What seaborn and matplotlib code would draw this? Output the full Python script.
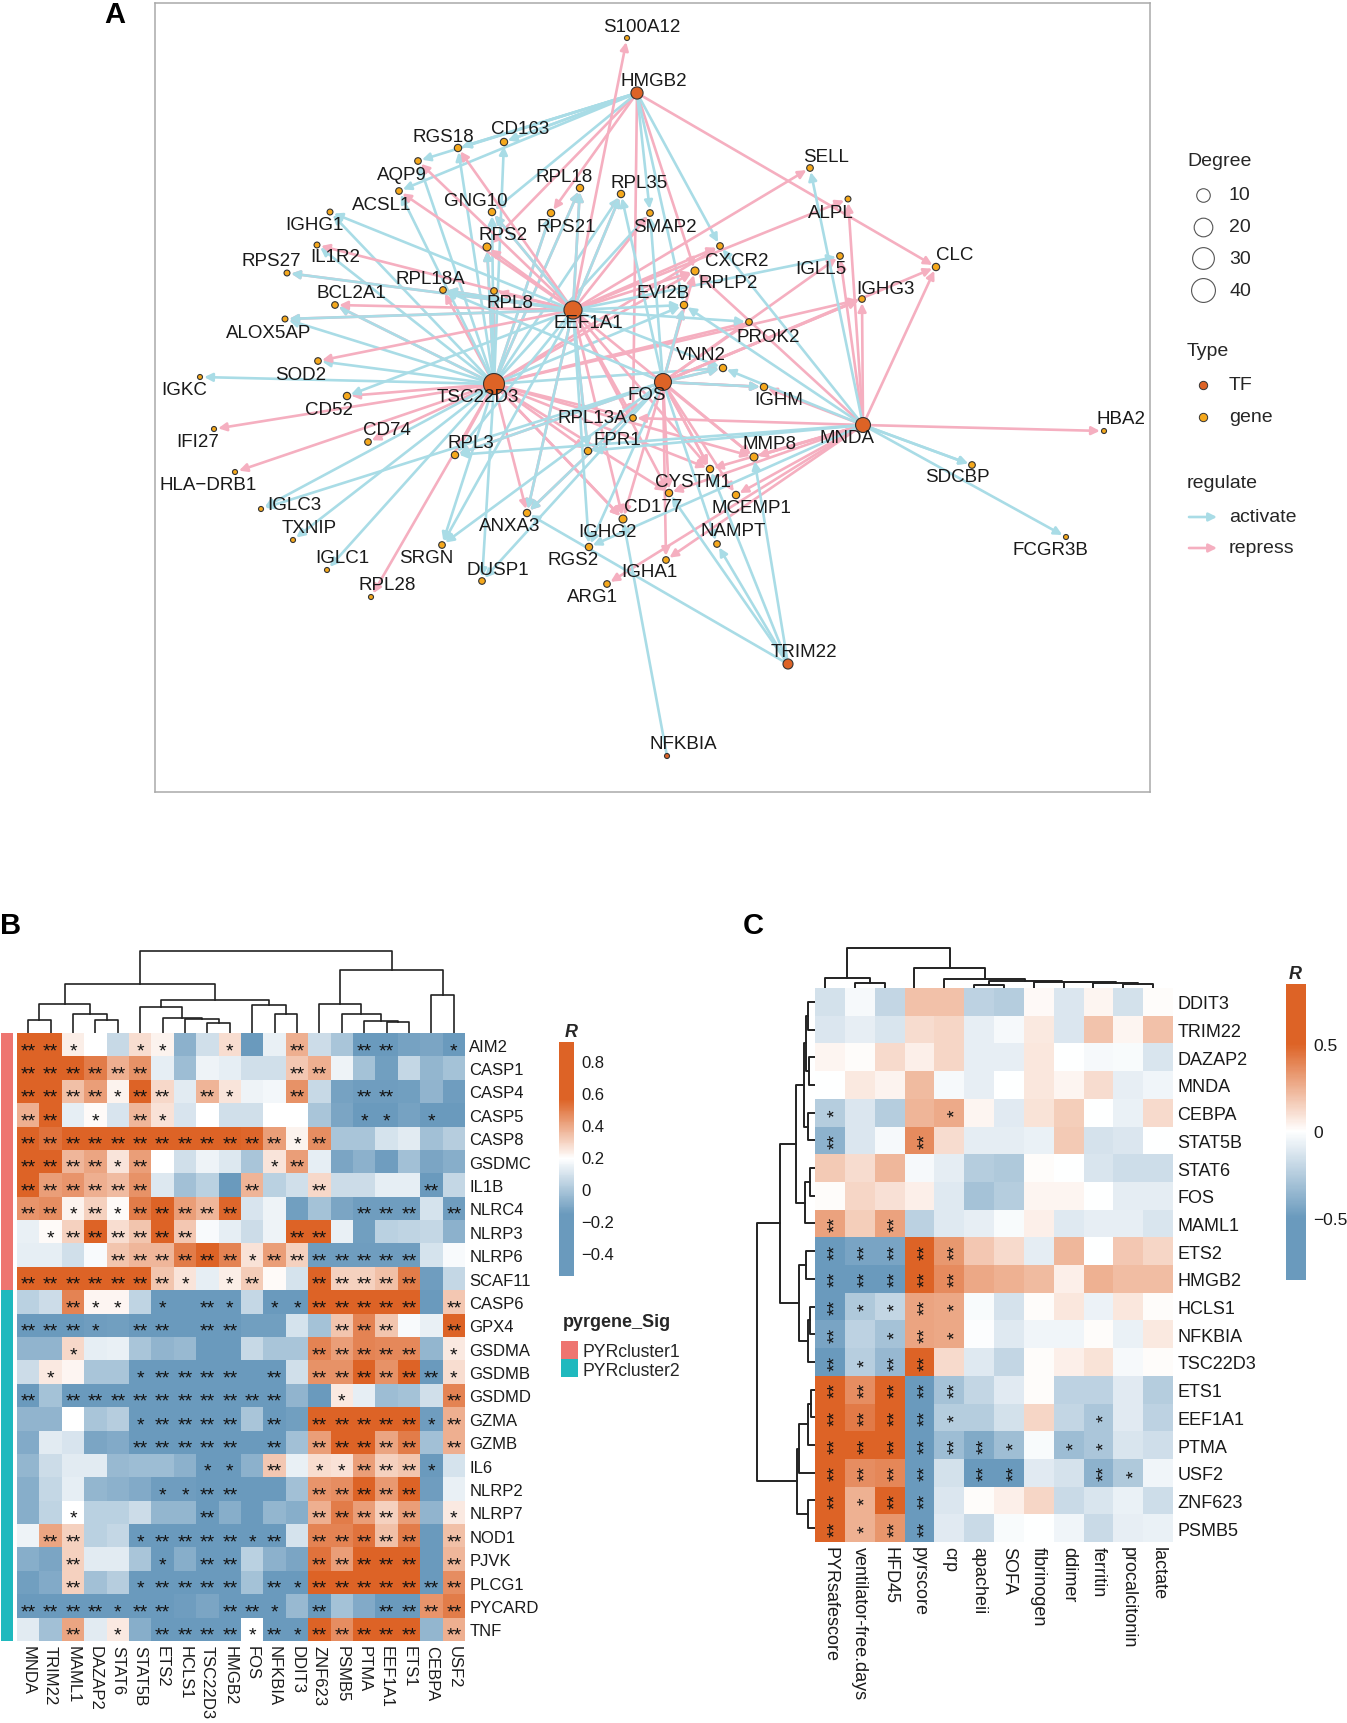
import numpy as np
import pandas as pd
import seaborn as sns
import matplotlib.pyplot as plt
from matplotlib.colors import LinearSegmentedColormap, ListedColormap

# Panel A: regulatory network, layout positions
node_names = ['S100A12', 'HMGB2', 'CD163', 'RGS18', 'AQP9', 'ACSL1', 'RPL18', 'RPL35', 'RPS21', 'GNG10',
              'IGHG1', 'RPS2', 'IL1R2', 'RPL18A', 'RPL8', 'RPS27', 'BCL2A1', 'ALOX5AP', 'EEF1A1', 'SOD2',
              'IGKC', 'TSC22D3', 'CD52', 'IFI27', 'CD74', 'HLA−DRB1', 'RPL3', 'IGLC3', 'TXNIP', 'IGLC1',
              'RPL28', 'SRGN', 'DUSP1', 'ANXA3', 'FPR1', 'RPL13A', 'IGHG2', 'RGS2', 'ARG1', 'FOS',
              'VNN2', 'IGHM', 'MNDA', 'MMP8', 'CYSTM1', 'CD177', 'MCEMP1', 'NAMPT', 'IGHA1', 'TRIM22',
              'NFKBIA', 'SELL', 'ALPL', 'CXCR2', 'RPLP2', 'IGLL5', 'EVI2B', 'IGHG3', 'PROK2', 'CLC',
              'HBA2', 'SDCBP', 'FCGR3B', 'SMAP2']
node_x = [627, 637, 504, 458, 418, 399, 580, 621, 551, 492,
          330, 487, 317, 443, 494, 287, 335, 285, 573, 318,
          200, 494, 347, 214, 368, 235, 455, 261, 293, 327,
          371, 442, 482, 527, 588, 633, 623, 589, 607, 663,
          723, 764, 863, 754, 710, 669, 736, 717, 666, 788,
          667, 810, 848, 720, 695, 840, 684, 862, 749, 936,
          1104, 972, 1066, 650]
node_y = [39, 94, 143, 149, 162, 192, 189, 195, 214, 213,
          213, 248, 246, 291, 292, 274, 306, 320, 311, 362,
          378, 385, 397, 430, 443, 473, 456, 510, 541, 571,
          598, 546, 582, 514, 452, 419, 520, 548, 585, 383,
          369, 388, 426, 458, 470, 494, 496, 545, 561, 665,
          757, 169, 200, 247, 272, 257, 306, 300, 323, 268,
          432, 466, 538, 214]
node_degree = [1, 14, 4, 4, 3, 3, 4, 4, 4, 4,
               2, 5, 2, 3, 3, 2, 3, 2, 33, 3,
               1, 45, 4, 1, 3, 1, 4, 1, 1, 1,
               1, 3, 3, 4, 4, 3, 5, 4, 3, 29,
               4, 4, 22, 5, 4, 4, 4, 3, 3, 9,
               1, 3, 2, 3, 5, 3, 4, 3, 3, 4,
               1, 3, 1, 3]
tf_names = ['HMGB2', 'EEF1A1', 'TSC22D3', 'FOS', 'MNDA', 'TRIM22', 'NFKBIA']
label_x = [642, 654, 520, 443, 402, 382, 564, 639, 566, 476,
           314, 503, 335, 430, 510, 271, 351, 269, 588, 301,
           184, 478, 329, 198, 387, 208, 471, 294, 309, 342,
           387, 426, 498, 510, 617, 592, 607, 573, 592, 647,
           701, 779, 847, 769, 693, 653, 751, 733, 649, 804,
           683, 826, 831, 737, 728, 821, 663, 885, 768, 955,
           1121, 957, 1050, 665]
label_y = [28, 81, 130, 137, 175, 205, 177, 183, 227, 201,
           226, 236, 258, 279, 304, 261, 294, 333, 323, 375,
           391, 398, 411, 443, 431, 486, 444, 506, 529, 559,
           586, 559, 571, 527, 441, 419, 533, 561, 598, 396,
           355, 401, 439, 445, 483, 508, 509, 532, 573, 653,
           745, 157, 213, 261, 283, 270, 293, 290, 337, 255,
           420, 478, 551, 228]

activate_targets = {
    'HMGB2': ['CD163', 'RGS18', 'AQP9', 'ACSL1', 'GNG10', 'SMAP2', 'CXCR2', 'EVI2B', 'CD163', 'RGS18'],
    'TSC22D3': ['IGKC', 'SOD2', 'ALOX5AP', 'BCL2A1', 'IGHG1', 'IL1R2', 'AQP9', 'ACSL1', 'RGS18', 'CD163',
                'GNG10', 'RPS2', 'IGLC3', 'TXNIP', 'IGLC1', 'SRGN', 'DUSP1', 'RPL18', 'RPL35', 'SMAP2',
                'EVI2B', 'VNN2', 'RPS21'],
    'EEF1A1': ['RPS27', 'IGHG1', 'CD52', 'RPL18A', 'RPL35', 'RPL3', 'FPR1', 'ANXA3', 'EVI2B', 'VNN2',
               'PROK2', 'RGS2', 'IGLL5', 'SRGN', 'RPL18', 'GNG10', 'ALOX5AP'],
    'FOS': ['SMAP2', 'RPL35', 'SRGN', 'DUSP1', 'VNN2', 'IGHM', 'NAMPT', 'RGS2', 'EVI2B', 'RPL18A',
            'RPL3', 'ANXA3', 'IGLC3'],
    'MNDA': ['SELL', 'EVI2B', 'SDCBP', 'SDCBP', 'FCGR3B', 'FPR1', 'RGS2', 'CXCR2', 'RPL3', 'VNN2'],
    'TRIM22': ['ANXA3', 'NAMPT', 'CYSTM1', 'MMP8', 'CD177'],
    'NFKBIA': ['IGHG2'],
}
repress_targets = {
    'HMGB2': ['RPS21', 'RPS2', 'RPLP2', 'CLC', 'RPL13A'],
    'TSC22D3': ['RPS2', 'RPL18A', 'RPL8', 'RPL18', 'RPS21', 'CD52', 'IFI27', 'HLA−DRB1', 'CD74', 'RPL3',
                'ANXA3', 'IGHG2', 'IGHG2', 'CYSTM1', 'MMP8', 'RPL13A', 'FPR1', 'BCL2A1', 'RPLP2', 'PROK2', 'IGHG3',
                'CXCR2', 'CD177', 'RPL28'],
    'EEF1A1': ['S100A12', 'ALOX5AP', 'BCL2A1', 'SOD2', 'RPL18', 'RPL8', 'IL1R2', 'RPS27', 'AQP9', 'RGS18',
               'ACSL1', 'RPL18A', 'RPS2', 'GNG10', 'RPLP2', 'ALPL', 'CXCR2', 'SELL', 'RPL13A', 'CYSTM1',
               'MMP8', 'CD177', 'IGHG2', 'FPR1', 'RPL35', 'ANXA3', 'SMAP2'],
    'FOS': ['EVI2B', 'RPLP2', 'IGHG3', 'IGHG3', 'CLC', 'PROK2', 'VNN2', 'IGHM', 'IGHM', 'CYSTM1', 'CYSTM1', 'MCEMP1',
            'MMP8', 'IGHA1', 'CD177', 'IGHG2', 'IGLL5', 'ANXA3', 'RPL3'],
    'MNDA': ['ALPL', 'IGLL5', 'IGHG3', 'CLC', 'HBA2', 'IGHM', 'RPLP2', 'RPL13A', 'MMP8', 'CYSTM1',
             'CD177', 'MCEMP1', 'IGHA1', 'ARG1', 'MMP8'],
}

# Panel B: pyroptosis genes against regulators
b_rows = ['AIM2', 'CASP1', 'CASP4', 'CASP5', 'CASP8', 'GSDMC', 'IL1B', 'NLRC4', 'NLRP3', 'NLRP6', 'SCAF11',
          'CASP6', 'GPX4', 'GSDMA', 'GSDMB', 'GSDMD', 'GZMA', 'GZMB', 'IL6', 'NLRP2', 'NLRP7', 'NOD1', 'PJVK',
          'PLCG1', 'PYCARD', 'TNF']
b_cols = ['MNDA', 'TRIM22', 'MAML1', 'DAZAP2', 'STAT6', 'STAT5B', 'ETS2', 'HCLS1', 'TSC22D3', 'HMGB2', 'FOS',
          'NFKBIA', 'DDIT3', 'ZNF623', 'PSMB5', 'PTMA', 'EEF1A1', 'ETS1', 'CEBPA', 'USF2']
b_values = [
    [.62, .65, .23, .19, .06, .27, .22, -.08, .08, .27, -.16, .14, .38, .07, -.01, -.17, -.17, -.13, -.12, -.16],
    [.65, .65, .60, .50, .38, .45, .13, -.04, .15, .13, .08, .08, .32, .38, .15, -.02, -.14, .05, -.06, -.02],
    [.65, .65, .34, .42, .22, .60, .28, .12, .37, .25, .15, .16, .45, .06, -.13, -.15, -.15, -.14, -.07, -.15],
    [.38, .58, .13, .20, .10, .36, .26, .10, .19, .08, .08, .19, .19, -.01, -.12, -.17, -.17, -.13, -.16, -.16],
    [.60, .52, .60, .60, .60, .60, .60, .60, .60, .60, .55, .42, .22, .46, -.01, -.01, .09, .12, -.03, .02],
    [.62, .56, .36, .40, .25, .42, .19, .08, .15, .11, -.01, .25, .42, .13, -.12, -.08, -.15, -.03, -.12, -.09],
    [.62, .42, .44, .38, .35, .45, .11, -.03, .03, -.16, .37, .03, .08, .28, .07, .07, .13, .13, -.16, .05],
    [.44, .46, .22, .30, .20, .50, .58, .42, .36, .55, .10, .15, -.14, -.02, -.12, -.15, -.15, -.15, .09, -.15],
    [.14, .20, .30, .60, .27, .33, .60, .32, .17, .13, .07, .15, .60, .60, .14, -.14, .03, .04, .05, -.08],
    [.13, .13, .08, .17, .33, .36, .36, .50, .58, .48, .26, .42, .30, -.15, -.15, -.15, -.15, -.15, .09, .17],
    [.60, .60, .60, .60, .60, .60, .33, .25, .13, .23, .31, .20, .09, .60, .30, .30, .34, .50, -.15, .05],
    [.03, .07, .48, .21, .21, .04, -.17, -.17, -.17, -.17, .05, -.16, -.16, .60, .60, .60, .60, .58, -.16, .32],
    [-.16, -.16, -.16, -.15, -.14, -.16, -.16, -.16, -.16, -.16, -.14, -.14, .09, -.02, .33, .48, .33, .17, .14, .60],
    [-.07, -.07, .28, .13, .14, -.01, -.07, -.05, -.16, -.16, .06, -.01, -.01, .48, .42, .48, .47, .47, -.06, .24],
    [.07, .24, .21, -.01, -.01, -.16, -.16, -.16, -.16, -.16, -.16, -.16, .08, .45, .45, .58, .45, .58, -.16, .27],
    [-.16, -.02, -.16, -.16, -.16, -.16, -.16, -.16, -.16, -.16, -.16, -.16, -.07, -.16, .24, .13, -.04, -.02, .08, .48],
    [-.07, -.07, .19, -.01, .02, -.16, -.16, -.16, -.16, -.16, -.01, -.16, -.14, .60, .60, .60, .60, .60, -.15, .38],
    [-.10, .12, .10, -.12, -.10, -.16, -.16, -.16, -.16, -.16, -.16, -.16, -.03, .42, .60, .60, .40, .50, -.03, .38],
    [-.06, .07, .12, .12, -.05, -.04, -.04, -.08, -.16, -.16, -.08, .32, .14, .27, .26, .42, .30, .33, -.16, .09],
    [-.09, .05, .13, -.06, -.08, -.10, -.15, -.15, -.16, -.16, -.16, -.16, -.03, .44, .46, .58, .43, .58, -.15, .14],
    [-.09, .04, .19, .03, .03, .07, -.06, -.06, -.16, -.09, -.16, -.06, -.09, .38, .50, .42, .30, .42, -.07, .24],
    [.15, .40, .30, .03, .05, -.16, -.16, -.16, -.16, -.16, -.16, -.16, .09, .48, .48, .52, .34, .50, -.16, .34],
    [-.09, -.12, .30, .12, .12, -.01, -.16, -.09, -.16, -.16, .03, -.08, -.12, .52, .42, .60, .60, .60, -.16, .36],
    [-.14, -.10, .30, -.03, .02, -.16, -.16, -.16, -.16, -.16, -.02, -.16, -.16, .60, .60, .60, .60, .60, -.16, .46],
    [-.16, -.16, -.16, -.16, -.16, -.16, -.16, -.15, -.12, -.16, -.16, -.16, -.05, -.16, -.02, -.10, -.16, -.16, .44, .50],
    [.12, -.03, .40, .12, .24, -.09, -.16, -.16, -.16, -.16, .19, -.16, -.16, .60, .46, .60, .60, .60, -.06, .38],
]
# 0 none, 1 one star, 2 two stars
b_stars = ['22100110010020022001', '22222200000022000000', '22221220210020022000', '22010210000000011010',
           '22222222222212000000', '22221200000120000000', '22222200002002000020', '22121222220000022202',
           '01222222000022000000', '00002222221222222200', '22222221012002222200', '00211010210112222202',
           '22210220220000222002', '00100000000002222201', '01000122220202222221', '20222222222200100002',
           '00000122220202222212', '00000222220202222202', '00000000110201122210', '00000011220002222200',
           '00100000200002222201', '02200122221202222202', '00200010220002222202', '00200122220212222222',
           '22221220022102002222', '00201022221212222202']
b_clusters = [0] * 11 + [1] * 15
cluster_names = ['PYRcluster1', 'PYRcluster2']
b_col_tree = (82, (49, (29, (13, 0, 1), (19, 2, (13, 3, 4))),
                   (33, (26, 5, (15, 6, (14, 7, (10, 8, 9)))), (28, 10, (19, 11, 12)))),
              (63, (29, 13, (19, 14, (12, 15, (11, 16, 17)))), (38, 18, 19)))

# Panel C: regulators against clinical variables
c_rows = ['DDIT3', 'TRIM22', 'DAZAP2', 'MNDA', 'CEBPA', 'STAT5B', 'STAT6', 'FOS', 'MAML1', 'ETS2', 'HMGB2',
          'HCLS1', 'NFKBIA', 'TSC22D3', 'ETS1', 'EEF1A1', 'PTMA', 'USF2', 'ZNF623', 'PSMB5']
c_cols = ['PYRsafescore', 'ventilator-free.days', 'HFD45', 'pyrscore', 'crp', 'apacheii', 'SOFA', 'fibrinogen',
          'ddimer', 'ferritin', 'procalcitonin', 'lactate']
c_values = [
    [-.15, -.03, -.20, .20, .20, -.22, -.25, .02, -.12, .03, -.15, .01],
    [-.12, -.08, -.13, .11, .13, -.08, -.03, .07, -.12, .19, .03, .20],
    [.03, .01, .12, .05, .13, -.08, -.08, .08, 0, -.03, -.02, -.13],
    [0, .07, .04, .22, -.03, -.08, 0, .08, .03, .11, -.08, -.05],
    [-.25, -.12, -.25, .24, .27, .03, -.10, .09, .16, 0, -.07, .12],
    [-.38, -.12, -.03, .37, .11, -.09, -.09, -.07, .17, -.14, -.12, 0],
    [.17, .11, .23, -.03, -.09, -.25, -.27, .01, 0, -.13, -.17, -.17],
    [.01, .13, .10, .05, -.11, -.30, -.25, .03, .03, 0, -.09, -.09],
    [.30, .16, .30, -.23, -.11, -.08, -.02, .05, -.11, -.08, -.08, -.13],
    [-.60, -.45, -.45, .50, .33, .18, .12, -.09, .23, 0, .18, .13],
    [-.60, -.60, -.55, .50, .37, .28, .25, .22, .05, .25, .21, .21],
    [-.55, -.27, -.20, .29, .28, -.02, -.14, .01, .08, -.06, .08, .01],
    [-.45, -.22, -.30, .29, .28, -.01, -.11, -.05, -.05, .01, -.07, .07],
    [-.55, -.24, -.35, .50, .12, -.11, -.20, .01, .05, .09, -.03, .01],
    [.50, .36, .50, -.55, -.30, -.20, -.10, .01, -.22, -.22, -.10, -.25],
    [.50, .42, .50, -.55, -.25, -.25, -.15, .13, -.20, -.28, -.10, -.22],
    [.50, .50, .50, -.60, -.33, -.42, -.32, -.02, -.33, -.28, -.13, -.16],
    [.50, .36, .38, -.60, -.15, -.50, -.55, -.10, -.14, -.38, -.27, -.05],
    [.50, .25, .50, -.55, -.12, .01, .05, .13, -.18, -.13, -.07, -.17],
    [.50, .25, .34, -.55, -.10, -.18, -.02, 0, -.05, -.18, -.08, -.07],
]
c_stars = ['000000000000', '000000000000', '000000000000', '000000000000', '100010000000', '200200000000',
           '000000000000', '000000000000', '202000000000', '222220000000', '222220000000', '211210000000',
           '201210000000', '212200000000', '222220000000', '222210000100', '222222101100', '222202200210',
           '212200000000', '212200000000']
c_col_tree = (40, (10, 0, (5, 1, 2)),
              (20, 3, (9, 4, (7.5, (3, 5, 6), (6.5, 7, (6, 8, (5.3, 9, (4, 10, 11))))))))
c_row_tree = (58, (35, (19, (10.7, (9.5, (7.3, 0, 1), (5.7, 2, 3)), (6.7, 4, 5)), (10, (5, 6, 7), 8)),
                   (15.7, (9.3, 9, 10), (6.7, (5, 11, 12), 13))),
              (17.7, (15.7, (7.3, (4, 14, 15), 16), 17), (6.7, 18, 19)))

W, H = 1347, 1724
orange, blue = '#DD6326', '#6A9ABD'
sky, pink = '#A9DCE6', '#F5AFC0'

sns.set_style('white')
plt.rcParams['font.family'] = ['Liberation Sans', 'DejaVu Sans']
fig = plt.figure(figsize=(W / 100, H / 100), dpi=100)


def box(x0, y0, x1, y1):
    return fig.add_axes([x0 / W, 1 - y1 / H, (x1 - x0) / W, (y1 - y0) / H])


def stars_of(code):
    return [['*' * int(c) for c in row] for row in code]


def diverging(vmin, vmax, low, mid, high):
    # flat ends, white in the middle
    pos = [(v - vmin) / (vmax - vmin) for v in (vmin, low, mid, high, vmax)]
    return LinearSegmentedColormap.from_list('r', list(zip(pos, [blue, blue, 'white', orange, orange])))


def draw_tree(ax, node, vertical=True, lw=1.2):
    # nested (height, left, right), plain ints are leaves
    if not isinstance(node, tuple):
        return node + .5, 0
    h, left, right = node
    p1, h1 = draw_tree(ax, left, vertical, lw)
    p2, h2 = draw_tree(ax, right, vertical, lw)
    xs, ys = [p1, p1, p2, p2], [h1, h, h, h2]
    if vertical:
        ax.plot(xs, ys, color='#222222', lw=lw, solid_capstyle='projecting')
    else:
        ax.plot(ys, xs, color='#222222', lw=lw, solid_capstyle='projecting')
    return (p1 + p2) / 2, h


# ---- A
nodes = pd.DataFrame({'gene': node_names, 'x': node_x, 'y': node_y, 'degree': node_degree})
nodes['type'] = ['TF' if n in tf_names else 'gene' for n in node_names]
pos = {n: (x, y) for n, x, y in zip(node_names, node_x, node_y)}

ax = box(155, 4, 1150, 793)
# repress then activate per TF so neither colour ends up fully on top
for src in activate_targets:
    for targets, col in ((repress_targets, pink), (activate_targets, sky)):
        for g in targets.get(src, []):
            ax.annotate('', xy=pos[g], xytext=pos[src],
                        arrowprops=dict(arrowstyle='-|>', color=col, lw=1.9, mutation_scale=12,
                                        shrinkA=0, shrinkB=3))
sns.scatterplot(data=nodes, x='x', y='y', size='degree', sizes=(13, 228), hue='type',
                palette={'TF': orange, 'gene': '#F5A81C'}, edgecolor='#333333', linewidth=.8,
                legend=False, ax=ax, zorder=3)
for n, x, y in zip(node_names, label_x, label_y):
    ax.text(x, y, n, ha='center', va='center', fontsize=13.5, color='#1a1a1a', zorder=4)
ax.set_xlim(155, 1150)
ax.set_ylim(793, 4)
ax.set(xlabel='', ylabel='', xticks=[], yticks=[])
for s in ax.spines.values():
    s.set_visible(True)
    s.set_color('#aaaaaa')
    s.set_linewidth(1.1)

# overlay in pixel units for legends and panel letters
ov = fig.add_axes([0, 0, 1, 1], zorder=5)
ov.set_xlim(0, W)
ov.set_ylim(H, 0)
ov.axis('off')
ov.patch.set_alpha(0)

ov.text(1187, 162, 'Degree', fontsize=14, va='center')
for yy, lab, s in zip((196, 228, 259, 291), ('10', '20', '30', '40'), (95, 180, 245, 295)):
    ov.scatter([1203], [yy], s=s, facecolor='white', edgecolor='#555555', linewidth=.8)
    ov.text(1229, yy, lab, fontsize=14, va='center')
ov.text(1187, 352, 'Type', fontsize=14, va='center')
for yy, lab, c in zip((386, 418), ('TF', 'gene'), (orange, '#F5A81C')):
    ov.scatter([1203], [yy], s=36, facecolor=c, edgecolor='#333333', linewidth=.7)
    ov.text(1229, yy, lab, fontsize=14, va='center')
ov.text(1187, 484, 'regulate', fontsize=14, va='center')
for yy, lab, c in zip((518, 549), ('activate', 'repress'), (sky, pink)):
    ov.annotate('', xy=(1217, yy), xytext=(1189, yy),
                arrowprops=dict(arrowstyle='-|>', color=c, lw=1.9, mutation_scale=12, shrinkA=0, shrinkB=0))
    ov.text(1229, yy, lab, fontsize=14, va='center')

for x, y, lab in ((115, 15, 'A'), (11, 926, 'B'), (753, 926, 'C')):
    ov.text(x, y, lab, fontsize=21, fontweight='bold', ha='center', va='center', color='black')

# ---- B
b_top, b_bottom, b_left, b_right = 1034, 1642, 17, 465
b_df = pd.DataFrame(b_values, index=b_rows, columns=b_cols)
b_cmap = diverging(-.546, .92, -.16, .19, .56)
axb = box(b_left, b_top, b_right, b_bottom)
caxb = box(559, 1043, 574, 1277)
sns.heatmap(b_df, ax=axb, cmap=b_cmap, vmin=-.546, vmax=.92, cbar_ax=caxb,
            annot=stars_of(b_stars), fmt='', annot_kws={'fontsize': 14, 'color': '#111111'})
for t in axb.texts:
    x, y = t.get_position()
    t.set_position((x, y + .25))
axb.yaxis.tick_right()
axb.tick_params(length=0, pad=3, labelsize=12, colors='#1a1a1a')
axb.set_yticklabels(b_rows, rotation=0)
axb.set_xticklabels(b_cols, rotation=270)

caxb.set_yticks([-.4, -.2, 0, .2, .4, .6, .8])
caxb.set_yticklabels(['−0.4', '−0.2', '0', '0.2', '0.4', '0.6', '0.8'])
caxb.tick_params(length=0, labelsize=12, pad=5, colors='#1a1a1a')
ov.text(571, 1033, 'R', fontsize=13, fontweight='bold', style='italic', ha='center', va='center')

axd = box(b_left, 950, b_right, 1034)
draw_tree(axd, b_col_tree)
axd.set_xlim(0, 20)
axd.set_ylim(0, 84)
axd.axis('off')

axa = box(1, b_top, 13, b_bottom)
sns.heatmap(pd.DataFrame({'sig': b_clusters}), ax=axa, cbar=False, xticklabels=False, yticklabels=False,
            cmap=ListedColormap(['#EE7570', '#1FB9BE']))

ov.text(563, 1323, 'pyrgene_Sig', fontsize=13, fontweight='bold', va='center')
axl = box(561, 1342, 578, 1378)
sns.heatmap(pd.DataFrame({'sig': [0, 1]}), ax=axl, cbar=False, xticklabels=False, yticklabels=False,
            cmap=ListedColormap(['#EE7570', '#1FB9BE']))
for yy, lab in zip((1353, 1372), cluster_names):
    ov.text(582, yy, lab, fontsize=12.7, va='center')

# ---- C
c_top, c_bottom, c_left, c_right = 989, 1543, 815, 1173
c_df = pd.DataFrame(c_values, index=c_rows, columns=c_cols)
c_cmap = diverging(-.856, .845, -.5, 0, .5)
axc = box(c_left, c_top, c_right, c_bottom)
caxc = box(1286, 985, 1306, 1281)
sns.heatmap(c_df, ax=axc, cmap=c_cmap, vmin=-.856, vmax=.845, cbar_ax=caxc,
            annot=stars_of(c_stars), fmt='', annot_kws={'fontsize': 14, 'color': '#111111', 'rotation': 90})
for t in axc.texts:
    x, y = t.get_position()
    t.set_position((x + .2, y))
axc.yaxis.tick_right()
axc.tick_params(length=0, pad=3, labelsize=13, colors='#1a1a1a')
axc.set_yticklabels(c_rows, rotation=0)
axc.set_xticklabels(c_cols, rotation=270)

caxc.set_yticks([-.5, 0, .5])
caxc.set_yticklabels(['−0.5', '0', '0.5'])
caxc.tick_params(length=0, labelsize=12.5, pad=5, colors='#1a1a1a')
ov.text(1295, 975, 'R', fontsize=13, fontweight='bold', style='italic', ha='center', va='center')

axt = box(c_left - 5, 947, c_right - 5, c_top)
draw_tree(axt, c_col_tree, lw=1.4)
axt.set_xlim(0, 12)
axt.set_ylim(0, 42)
axt.axis('off')

axr = box(755, c_top, c_left, c_bottom)
draw_tree(axr, c_row_tree, vertical=False, lw=1.4)
axr.set_xlim(60, 0)
axr.set_ylim(20, 0)
axr.axis('off')

fig.savefig('out.png', dpi=100)
